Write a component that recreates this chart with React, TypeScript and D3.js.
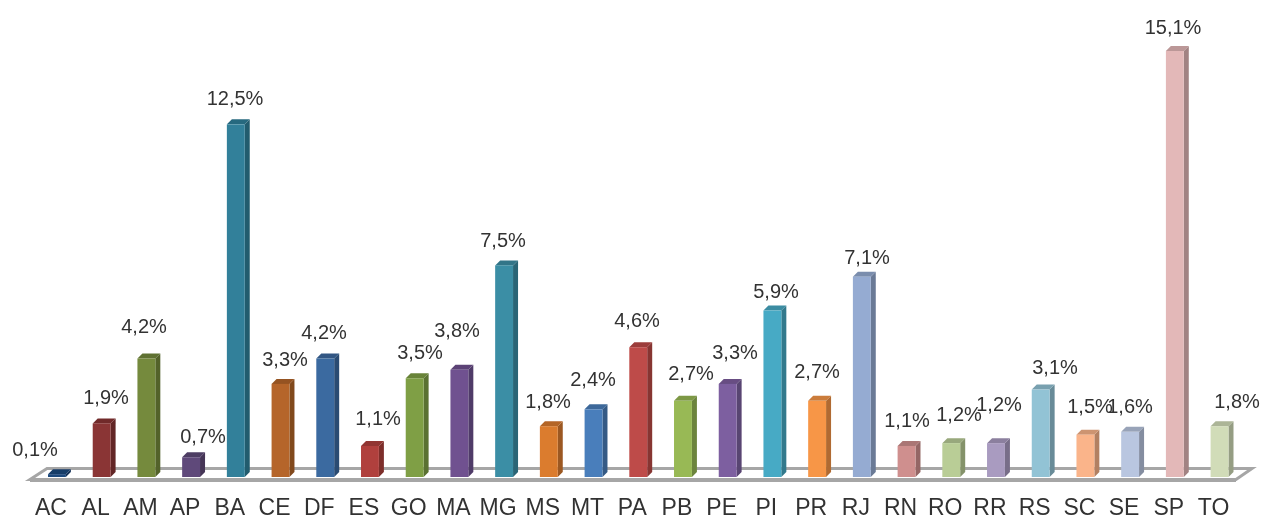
import React from "react";
import * as d3 from "d3";

const states = ["AC","AL","AM","AP","BA","CE","DF","ES","GO","MA","MG","MS","MT","PA","PB","PE","PI","PR","RJ","RN","RO","RR","RS","SC","SE","SP","TO"];
const shares = [0.1,1.9,4.2,0.7,12.5,3.3,4.2,1.1,3.5,3.8,7.5,1.8,2.4,4.6,2.7,3.3,5.9,2.7,7.1,1.1,1.2,1.2,3.1,1.5,1.6,15.1,1.8];
const colors = ["#1f497d","#8a3536","#748a3c","#5f497a","#31809a","#b5652a","#3b6aa0","#b0413e","#7f9f45","#6f5190","#3a8ea5","#db7b2f","#4a7ebb","#be4b48","#98b954","#7d5fa0","#46aac5","#f79646","#95abd2","#cf8f8e","#b9cd96","#a99bc0","#92c3d5","#fab48a","#b9c6e0","#e3b8b8","#d1dcb8"];
// hand-placed label centres, as in the source chart
const labelCx = [35,106,144,203,235,285,324,378,420,457,503,548,593,637,691,735,776,817,867,907,959,999,1055,1090,1130,1173,1237];
const labelCy = [449,397,326,436,98,359,332,418,352,330,240,401,379,320,373,352,291,371,257,420,414,404,367,406,406,27,401];

const W = 1264, H = 519;
const baseY = 477;
const x = d3.scaleBand<string>().domain(states).range([48, 1228.5]).paddingInner(0.6).paddingOuter(0);
const y = d3.scaleLinear().domain([0, 15.1]).range([baseY, 51]);
const depthX = 5, depthY = 5;
const fmt = (v: number) => v.toFixed(1).replace(".", ",") + "%";
const line = d3.line();

export default function App() {
  const bw = x.bandwidth();
  return (
    <svg width={W} height={H} viewBox={`0 0 ${W} ${H}`} style={{ position: "absolute", left: 0, top: 0, background: "#fff", fontFamily: "'Liberation Sans', Arial, sans-serif" }}>
      <defs><filter id="soft" x="-2%" y="-2%" width="104%" height="104%"><feGaussianBlur stdDeviation="0.45" /></filter></defs>
      <g filter="url(#soft)">
        <path d={line([[30,479.5],[47,468.5],[1252,468.5],[1236,479.5]])! + "Z"} fill="#fff" stroke="#a6a6a6" strokeWidth={3} />
        <path d={line([[30,480],[1236,480]])!} fill="none" stroke="#a6a6a6" strokeWidth={4} />
        {states.map((s, i) => {
          const x0 = x(s)!, x1 = x0 + bw, top = y(shares[i]);
          const c = d3.color(colors[i])!;
          return (
            <g key={s}>
              <path d={line([[x1,baseY],[x1,top],[x1+depthX,top-depthY],[x1+depthX,baseY-depthY]])! + "Z"} fill={c.darker(0.95).formatHex()} />
              <path d={line([[x0,top],[x0+depthX,top-depthY],[x1+depthX,top-depthY],[x1,top]])! + "Z"} fill={c.darker(0.55).formatHex()} />
              <rect x={x0} y={top} width={bw} height={baseY - top} fill={colors[i]} />
            </g>
          );
        })}
        {states.map((s, i) => (
          <text key={s} x={labelCx[i]} y={labelCy[i]} dy="0.36em" textAnchor="middle" fontSize={20} fill="#333">{fmt(shares[i])}</text>
        ))}
        {states.map(s => (
          <text key={s} x={x(s)! + bw / 2 - 6} y={507} dy="0.36em" textAnchor="middle" fontSize={23} fill="#333">{s}</text>
        ))}
      </g>
    </svg>
  );
}
